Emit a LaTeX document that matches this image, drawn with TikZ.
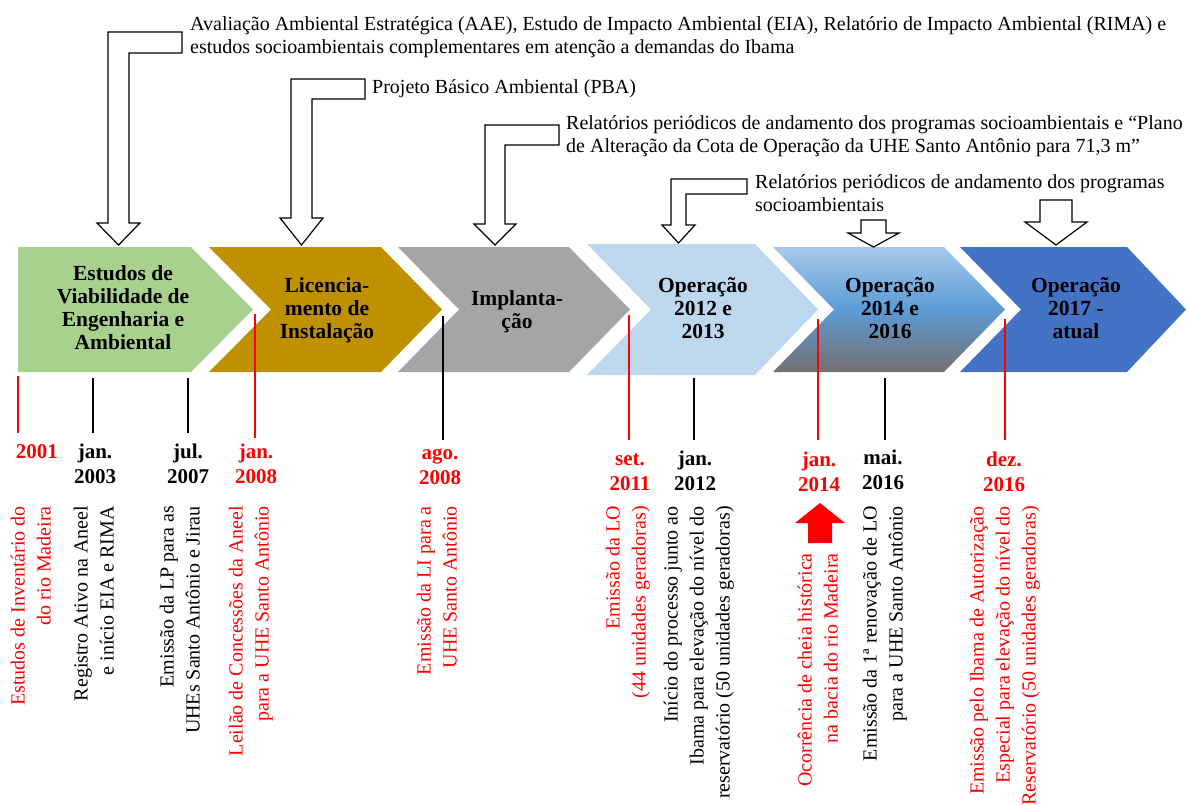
\documentclass[tikz,border=0pt]{standalone}
\usepackage{fontspec}
\setmainfont{Liberation Serif}
\definecolor{chgreen}{HTML}{A9D18E}
\definecolor{chgold}{HTML}{BF9000}
\definecolor{chgray}{HTML}{A5A5A5}
\definecolor{chlight}{HTML}{BDD7EE}
\definecolor{chdark}{HTML}{4472C4}
\definecolor{gradtop}{HTML}{A7CAEB}
\definecolor{gradmid}{HTML}{5B9BD5}
\definecolor{gradbot}{HTML}{767171}
\definecolor{evred}{HTML}{FF0000}

% stacked lines whose baseline is that of the first line
\newcommand{\txtlines}[2]{\begin{tabular}[t]{@{}#1@{}}#2\end{tabular}}

\tikzset{
  hollow/.style={draw=black, fill=white, line width=1.2pt, line join=miter},
  tick/.style={line width=1.2pt, draw=black},
  redtick/.style={line width=1.2pt, draw=evred},
  toptext/.style={inner sep=0pt, anchor=base west, font=\fontsize{20}{23}\selectfont},
  phase/.style={inner sep=0pt, anchor=base, font=\bfseries\fontsize{21.5}{23}\selectfont},
  datelbl/.style={inner sep=0pt, anchor=base, font=\bfseries\fontsize{21}{25.5}\selectfont},
  vlabel/.style={inner sep=0pt, anchor=base east, rotate=90, font=\fontsize{20}{26}\selectfont},
}

\begin{document}
\begin{tikzpicture}[x=1pt,y=-1pt]
\useasboundingbox (0,0) rectangle (1188,805);

% ---------- phase chevrons ----------
\path[fill=chgreen] (18,247) -- (191,247) -- (253,309.5) -- (191,372) -- (18,372) -- cycle;
\path[fill=chgold] (209,247) -- (381,247) -- (442,309.5) -- (381,372) -- (209,372) -- (271,309.5) -- cycle;
\path[fill=chgray] (398,247) -- (569,247) -- (630,309.5) -- (569,372) -- (398,372) -- (459,309.5) -- cycle;
\path[fill=chlight] (587,244) -- (755,244) -- (818,309.5) -- (755,375) -- (587,375) -- (651,309.5) -- cycle;
\shade[top color=gradtop, bottom color=gradbot, middle color=gradmid]
  (773,247) -- (944,247) -- (1005,309.5) -- (944,372) -- (773,372) -- (834,309.5) -- cycle;
\path[fill=chdark] (960,247) -- (1127,247) -- (1186,309.5) -- (1127,372) -- (960,372) -- (1021,309.5) -- cycle;

\node[phase] (ph1) at (123,280) {\txtlines{c}{Estudos de\\Viabilidade de\\Engenharia e\\Ambiental}};
\node[phase] (ph2) at (327,292) {\txtlines{c}{Licencia-\\mento de\\Instalação}};
\node[phase] (ph3) at (517,305) {\txtlines{c}{Implanta-\\ção}};
\node[phase] (ph4) at (703,292) {\txtlines{c}{Operação\\2012 e\\2013}};
\node[phase] (ph5) at (890,292) {\txtlines{c}{Operação\\2014 e\\2016}};
\node[phase] (ph6) at (1076,292) {\txtlines{c}{Operação\\2017 -\\atual}};

% ---------- deliverables above the phases ----------
\node[toptext] (d1) at (190,31) {\txtlines{l}{Avaliação Ambiental Estratégica (AAE), Estudo de Impacto Ambiental (EIA), Relatório de Impacto Ambiental (RIMA) e\\estudos socioambientais complementares em atenção a demandas do Ibama}};
\node[toptext] (d2) at (372,94) {Projeto Básico Ambiental (PBA)};
\node[toptext] (d3) at (566,130) {\txtlines{l}{Relatórios periódicos de andamento dos programas socioambientais e “Plano\\de Alteração da Cota de Operação da UHE Santo Antônio para 71,3 m”}};
\node[toptext] (d4) at (755,189) {\txtlines{l}{Relatórios periódicos de andamento dos programas\\socioambientais}};

% bent hollow arrows from the deliverables down to the phases
\path[hollow] (182,32) -- (108,32) -- (108,223) -- (97,223) -- (118.5,245) -- (140,223) -- (129,223) -- (129,53) -- (182,53) -- cycle;
\path[hollow] (365,79) -- (291,79) -- (291,218) -- (280,218) -- (301.5,245) -- (323,218) -- (312,218) -- (312,99) -- (365,99) -- cycle;
\path[hollow] (559,125) -- (485,125) -- (485,224) -- (474,224) -- (495,245) -- (516,224) -- (505,224) -- (505,145) -- (559,145) -- cycle;
\path[hollow] (747,179) -- (671,179) -- (671,225) -- (662,225) -- (678.5,243) -- (695,225) -- (686,225) -- (686,194) -- (747,194) -- cycle;
% straight hollow arrows
\path[hollow] (861,220) -- (886,220) -- (886,233) -- (899,233) -- (873.5,247) -- (848,233) -- (861,233) -- cycle;
\path[hollow] (1040,200) -- (1072,200) -- (1072,222) -- (1087,222) -- (1056,245) -- (1025,222) -- (1040,222) -- cycle;

% ---------- milestones ----------
\coordinate (m1a) at (18,376);   \coordinate (m1b) at (18,433);
\coordinate (m2a) at (93,378);   \coordinate (m2b) at (93,433);
\coordinate (m3a) at (188,378);  \coordinate (m3b) at (188,433);
\coordinate (m4a) at (255,314);  \coordinate (m4b) at (255,438);
\coordinate (m5a) at (443,316);  \coordinate (m5b) at (443,440);
\coordinate (m6a) at (629,315);  \coordinate (m6b) at (629,440);
\coordinate (m7a) at (694,378);  \coordinate (m7b) at (694,440);
\coordinate (m8a) at (818,319);  \coordinate (m8b) at (818,440);
\coordinate (m9a) at (885,378);  \coordinate (m9b) at (885,440);
\coordinate (m10a) at (1005,319); \coordinate (m10b) at (1005,440);

\draw[redtick] (m1a) -- (m1b);
\draw[tick] (m2a) -- (m2b);
\draw[tick] (m3a) -- (m3b);
\draw[redtick] (m4a) -- (m4b);
\draw[tick] (m5a) -- (m5b);
\draw[redtick] (m6a) -- (m6b);
\draw[tick] (m7a) -- (m7b);
\draw[redtick] (m8a) -- (m8b);
\draw[tick] (m9a) -- (m9b);
\draw[redtick] (m10a) -- (m10b);

\node[datelbl, text=evred] (y1) at (37,458) {2001};
\node[datelbl] (y2) at (95,458) {\txtlines{c}{jan.\\2003}};
\node[datelbl] (y3) at (188,458) {\txtlines{c}{jul.\\2007}};
\node[datelbl, text=evred] (y4) at (256,458) {\txtlines{c}{jan.\\2008}};
\node[datelbl, text=evred] (y5) at (440,459) {\txtlines{c}{ago.\\2008}};
\node[datelbl, text=evred] (y6) at (630,465) {\txtlines{c}{set.\\2011}};
\node[datelbl] (y7) at (695,465) {\txtlines{c}{jan.\\2012}};
\node[datelbl, text=evred] (y8) at (819,466) {\txtlines{c}{jan.\\2014}};
\node[datelbl] (y9) at (883,464) {\txtlines{c}{mai.\\2016}};
\node[datelbl, text=evred] (y10) at (1004,466) {\txtlines{c}{dez.\\2016}};

% flood marker
\fill[evred] (808,543) -- (808,523) -- (795,523) -- (820,503) -- (845,523) -- (832,523) -- (832,543) -- cycle;

\node[vlabel, text=evred] (e1) at (24.5,506) {\txtlines{r}{Estudos de Inventário do\\do rio Madeira}};
\node[vlabel] (e2) at (87.5,506) {\txtlines{r}{Registro Ativo na Aneel\\e início EIA e RIMA}};
\node[vlabel] (e3) at (173.5,506) {\txtlines{r}{Emissão da LP para as\\UHEs Santo Antônio e Jirau}};
\node[vlabel, text=evred] (e4) at (242.5,506) {\txtlines{r}{Leilão de Concessões da Aneel\\para a UHE Santo Antônio}};
\node[vlabel, text=evred] (e5) at (430.5,506) {\txtlines{r}{Emissão da LI para a\\UHE Santo Antônio}};
\node[vlabel, text=evred] (e6) at (619.5,506) {\txtlines{r}{Emissão da LO\\(44 unidades geradoras)}};
\node[vlabel] (e7) at (677.5,506) {\txtlines{r}{Início do processo junto ao\\Ibama para elevação do nível do\\reservatório (50 unidades geradoras)}};
\node[vlabel, text=evred] (e8) at (811.5,553) {\txtlines{r}{Ocorrência de cheia histórica\\na bacia do rio Madeira}};
\node[vlabel] (e9) at (876.5,506) {\txtlines{r}{Emissão da 1ª renovação de LO\\para a UHE Santo Antônio}};
\node[vlabel, text=evred] (e10) at (983.5,506) {\txtlines{r}{Emissão pelo Ibama de Autorização\\Especial para elevação do nível do\\Reservatório (50 unidades geradoras)}};
\end{tikzpicture}
\end{document}
